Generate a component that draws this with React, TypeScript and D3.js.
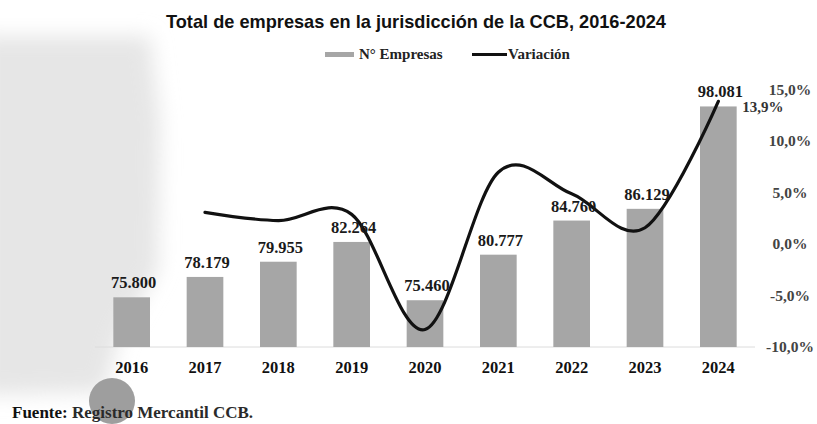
import React, { useEffect, useRef } from 'react';
import * as d3 from 'd3';

const years = ['2016', '2017', '2018', '2019', '2020', '2021', '2022', '2023', '2024'];
const empresas = [75800, 78179, 79955, 82264, 75460, 80777, 84760, 86129, 98081];
// variación anual en %, 2016 no tiene dato
const variacion: (number | null)[] = [null, 3.1, 2.3, 2.9, -8.3, 7.0, 4.9, 1.6, 13.9];
const pctTicks = [-10, -5, 0, 5, 10, 15];

const W = 817;
const H = 424;

const es = d3.formatLocale({ decimal: ',', thousands: '.', grouping: [3], currency: ['$', ''], minus: '-' });
const fmtNum = es.format(',d');
const fmtPct = es.format('.1f');

const serif = "'Liberation Serif', 'Times New Roman', serif";

const App = () => {
    const ref = useRef<SVGSVGElement>(null);

    useEffect(() => {
        const svg = d3.select(ref.current);
        svg.selectAll('*').remove();

        // fondo: manchas grises del escaneo
        const defs = svg.append('defs');
        defs.append('filter').attr('id', 'blur')
            .attr('x', '-30%').attr('y', '-30%').attr('width', '160%').attr('height', '160%')
            .append('feGaussianBlur').attr('stdDeviation', 10);

        svg.append('path')
            .attr('d', 'M-20,36 L150,36 L160,120 L158,270 L120,335 L104,392 L-20,395 Z')
            .attr('fill', '#e6e6e6')
            .attr('filter', 'url(#blur)');

        svg.append('circle')
            .attr('cx', 112).attr('cy', 401).attr('r', 23)
            .attr('fill', '#9e9e9e');

        const x = d3.scaleBand<string>()
            .domain(years)
            .range([95, 755])
            .paddingInner(0.5)
            .paddingOuter(0.25);

        const y = d3.scaleLinear().domain([70000, 100000]).range([347, 90]);
        const yPct = d3.scaleLinear().domain([-10, 15]).range([347, 90]);

        // título
        svg.append('text')
            .attr('x', 416).attr('y', 28)
            .attr('text-anchor', 'middle')
            .attr('font-family', "'Liberation Sans Narrow', 'Arial Narrow', 'Liberation Sans', Arial, sans-serif")
            .attr('font-weight', 'bold')
            .attr('font-size', 19)
            .attr('textLength', 500)
            .attr('lengthAdjust', 'spacingAndGlyphs')
            .attr('fill', '#111')
            .text('Total de empresas en la jurisdicción de la CCB, 2016-2024');

        // leyenda
        const legend = svg.append('g').attr('font-family', serif).attr('font-weight', 'bold').attr('fill', '#222');
        legend.append('rect').attr('x', 325).attr('y', 52).attr('width', 29).attr('height', 5).attr('fill', '#a6a6a6');
        legend.append('text').attr('x', 359).attr('y', 59).attr('font-size', 15).text('N° Empresas');
        legend.append('line').attr('x1', 472).attr('x2', 507).attr('y1', 54.5).attr('y2', 54.5)
            .attr('stroke', '#111').attr('stroke-width', 3);
        legend.append('text').attr('x', 508).attr('y', 59).attr('font-size', 15).text('Variación');

        // línea base
        svg.append('line')
            .attr('x1', 95).attr('x2', 755).attr('y1', y(70000)).attr('y2', y(70000))
            .attr('stroke', '#dcdcdc').attr('stroke-width', 1);

        // barras
        svg.append('g').selectAll('rect')
            .data(empresas)
            .enter()
            .append('rect')
            .attr('x', (d, i) => x(years[i]) as number)
            .attr('y', d => y(d))
            .attr('width', x.bandwidth())
            .attr('height', d => y(70000) - y(d))
            .attr('fill', '#a6a6a6');

        // línea de variación suavizada
        const pts = variacion
            .map((v, i) => ({ v, i }))
            .filter(d => d.v !== null) as { v: number; i: number }[];

        const line = d3.line<{ v: number; i: number }>()
            .x(d => (x(years[d.i]) as number) + x.bandwidth() / 2)
            .y(d => yPct(d.v))
            .curve(d3.curveCardinal.tension(0));

        svg.append('path')
            .datum(pts)
            .attr('d', line)
            .attr('fill', 'none')
            .attr('stroke', '#111')
            .attr('stroke-width', 3.2)
            .attr('stroke-linecap', 'round');

        // etiquetas de valores
        svg.append('g').selectAll('text')
            .data(empresas)
            .enter()
            .append('text')
            .attr('x', (d, i) => (x(years[i]) as number) + x.bandwidth() / 2 + 2)
            .attr('y', d => y(d) - 9)
            .attr('text-anchor', 'middle')
            .attr('font-family', serif)
            .attr('font-size', 16.5)
            .attr('font-weight', 'bold')
            .attr('fill', '#1a1a1a')
            .text(d => fmtNum(d));

        // etiqueta del último punto
        const last = pts[pts.length - 1];
        svg.append('text')
            .attr('x', (x(years[last.i]) as number) + x.bandwidth() / 2 + 24)
            .attr('y', yPct(last.v) + 11)
            .attr('font-family', serif)
            .attr('font-size', 15)
            .attr('font-weight', 'bold')
            .attr('fill', '#333')
            .text(fmtPct(last.v) + '%');

        // eje x
        svg.append('g').selectAll('text')
            .data(years)
            .enter()
            .append('text')
            .attr('x', d => (x(d) as number) + x.bandwidth() / 2)
            .attr('y', 373)
            .attr('text-anchor', 'middle')
            .attr('font-family', serif)
            .attr('font-size', 16.5)
            .attr('font-weight', 'bold')
            .attr('fill', '#111')
            .text(d => d);

        // eje derecho (%)
        svg.append('g').selectAll('text')
            .data(pctTicks)
            .enter()
            .append('text')
            .attr('x', 790)
            .attr('y', d => yPct(d) + 5)
            .attr('text-anchor', 'middle')
            .attr('font-family', serif)
            .attr('font-size', 15.5)
            .attr('font-weight', 'bold')
            .attr('fill', '#444')
            .text(d => fmtPct(d) + '%');

        // fuente
        const src = svg.append('text')
            .attr('x', 12).attr('y', 418)
            .attr('font-family', serif)
            .attr('font-size', 17)
            .attr('font-weight', 'bold');
        src.append('tspan').attr('fill', '#111').text('Fuente: ');
        src.append('tspan').attr('fill', '#2a2a2a').text('Registro Mercantil CCB.');
    }, []);

    return (
        <svg ref={ref} width={W} height={H}
            style={{ position: 'absolute', left: 0, top: 0, background: '#fff' }} />
    );
};

export default App;
